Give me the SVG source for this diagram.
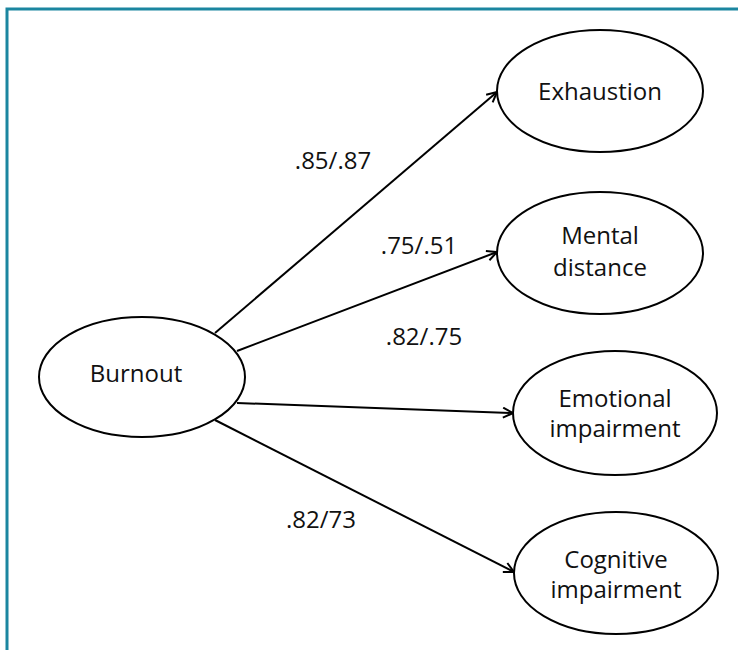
<svg xmlns="http://www.w3.org/2000/svg" width="738" height="650" viewBox="0 0 738 650">
<style>
.node ellipse{fill:#fff;stroke:#000;stroke-width:2}
text{font-family:"Open Sans","Noto Sans","Liberation Sans",sans-serif;font-size:24px;fill:#111;text-anchor:middle}
.edge{stroke:#000;stroke-width:2;fill:none;marker-end:url(#arr)}
</style>
<defs>
<marker id="arr" viewBox="0 0 12 12" refX="11" refY="6" markerWidth="12" markerHeight="12" markerUnits="userSpaceOnUse" orient="auto">
<path d="M1,1 L11,6 L1,11" fill="none" stroke="#000" stroke-width="2"/>
</marker>
</defs>
<rect x="0" y="0" width="738" height="650" fill="#fff"/>
<path d="M7,650 V9 H738" fill="none" stroke="#1b86a0" stroke-width="3"/>
<g id="connectors">
<line class="edge" x1="215" y1="333" x2="497" y2="92"/>
<line class="edge" x1="237" y1="351" x2="497" y2="252"/>
<line class="edge" x1="237" y1="403" x2="513" y2="413"/>
<line class="edge" x1="215" y1="420" x2="514" y2="572"/>
<text x="333" y="169">.85/.87</text>
<text x="419" y="254">.75/.51</text>
<text x="424" y="345">.82/.75</text>
<text x="321" y="528">.82/73</text>
</g>
<g id="burnout" class="node"><ellipse cx="142" cy="377" rx="103" ry="60"/><text x="136" y="382">Burnout</text></g>
<g id="exhaustion" class="node"><ellipse cx="600" cy="91" rx="103" ry="61"/><text x="600" y="100">Exhaustion</text></g>
<g id="mental" class="node"><ellipse cx="600" cy="253" rx="103" ry="61"/><text x="600" y="244">Mental</text><text x="600" y="276">distance</text></g>
<g id="emotional" class="node"><ellipse cx="615" cy="413" rx="102" ry="62"/><text x="615" y="407">Emotional</text><text x="615" y="437">impairment</text></g>
<g id="cognitive" class="node"><ellipse cx="616" cy="573" rx="102" ry="61"/><text x="616" y="568">Cognitive</text><text x="616" y="598">impairment</text></g>
</svg>
